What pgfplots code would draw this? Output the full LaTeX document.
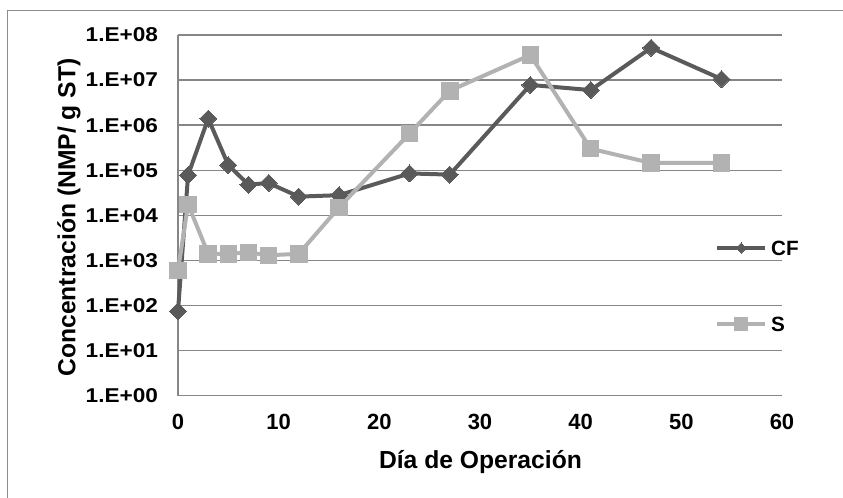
\documentclass[border=0pt]{standalone}
\usepackage{pgfplots}
\pgfplotsset{compat=1.18}
\usepackage{fontspec}
\setmainfont{Liberation Sans}
\newfontfamily\ytickfont[FakeStretch=1.13]{Liberation Sans}
\definecolor{cfc}{RGB}{90,90,90}
\definecolor{sc}{RGB}{178,178,178}
\definecolor{gridc}{RGB}{134,134,134}
\definecolor{framec}{RGB}{140,140,140}
\pgfplotstableread{
x y
0 75
1 78000
3 1400000
5 130000
7 48000
9 52000
12 26000
16 28000
23 85000
27 80000
35 7800000
41 6000000
47 52000000
54 10500000
}\cfdata
\pgfplotstableread{
x y
0 600
1 17500
3 1400
5 1400
7 1500
9 1300
12 1400
16 15000
23 650000
27 5800000
35 36000000
41 300000
47 145000
54 145000
}\sdata
\begin{document}
\begin{tikzpicture}
\path[use as bounding box] (-133.5pt,-76.7pt) rectangle (498.75pt,296.75pt);
\draw[framec, line width=0.75pt] (-127.5pt,-120pt) -- (-127.5pt,288.5pt) -- (560pt,288.5pt);
\begin{axis}[
  at={(0pt,0pt)}, anchor=south west,
  scale only axis, width=453pt, height=270.5pt,
  xmin=0, xmax=60, ymode=log, ymin=1, ymax=1e8,
  clip=false,
  axis x line*=bottom, axis y line*=left,
  axis line style={gridc, line width=1pt, -},
  xtick={0,10,...,60},
  ytick={1,10,100,1000,10000,100000,1000000,10000000,100000000},
  yticklabels={1.E+00,1.E+01,1.E+02,1.E+03,1.E+04,1.E+05,1.E+06,1.E+07,1.E+08},
  yminorticks=false,
  major tick length=0pt,
  ymajorgrids, grid style={gridc, line width=1pt},
  /pgf/number format/assume math mode=true,
  xticklabel style={font=\bfseries\fontsize{16.5pt}{19pt}\selectfont, yshift=-10.5pt},
  yticklabel style={font=\ytickfont\bfseries\fontsize{15pt}{18pt}\selectfont, xshift=-11.5pt},
  xlabel={Día de Operación},
  ylabel={Concentración (NMP/ g ST)},
  label style={font=\bfseries\fontsize{18.5pt}{22pt}\selectfont},
  xlabel style={at={(axis description cs:0.5008,-0.2032)}, anchor=base},
  ylabel style={at={(axis description cs:-0.17,0.494)}, anchor=base},
  legend cell align=left,
  legend style={at={(axis description cs:0.889,0.304)}, anchor=west, draw=none, fill=none,
    inner sep=0pt, row sep=46pt, column sep=3pt,
    font=\bfseries\fontsize{15.5pt}{18pt}\selectfont,
    nodes={inner sep=0pt, text height=11pt, text depth=0pt}},
  legend image code/.code={\draw[mark repeat=2, mark phase=2, #1] plot coordinates {(0pt,0pt) (18pt,0pt) (36pt,0pt)};},
]
\addplot[cfc, line width=3pt, mark=square*, mark size=4.5pt, mark options={solid, rotate=45, fill=cfc, draw=cfc, line width=0pt}, forget plot] table[x=x,y=y] {\cfdata};
\addplot[sc, line width=3pt, mark=square*, mark size=6.2pt, mark options={solid, fill=sc, draw=sc, line width=0pt}, forget plot] table[x=x,y=y] {\sdata};
\addlegendimage{cfc, line width=3pt, mark=square*, mark size=2.7pt, mark options={solid, rotate=45, fill=cfc, draw=cfc, line width=0pt}}
\addlegendentry{CF}
\addlegendimage{sc, line width=3pt, mark=square*, mark size=5pt, mark options={solid, fill=sc, draw=sc, line width=0pt}}
\addlegendentry{S}
\end{axis}
\end{tikzpicture}
\end{document}
